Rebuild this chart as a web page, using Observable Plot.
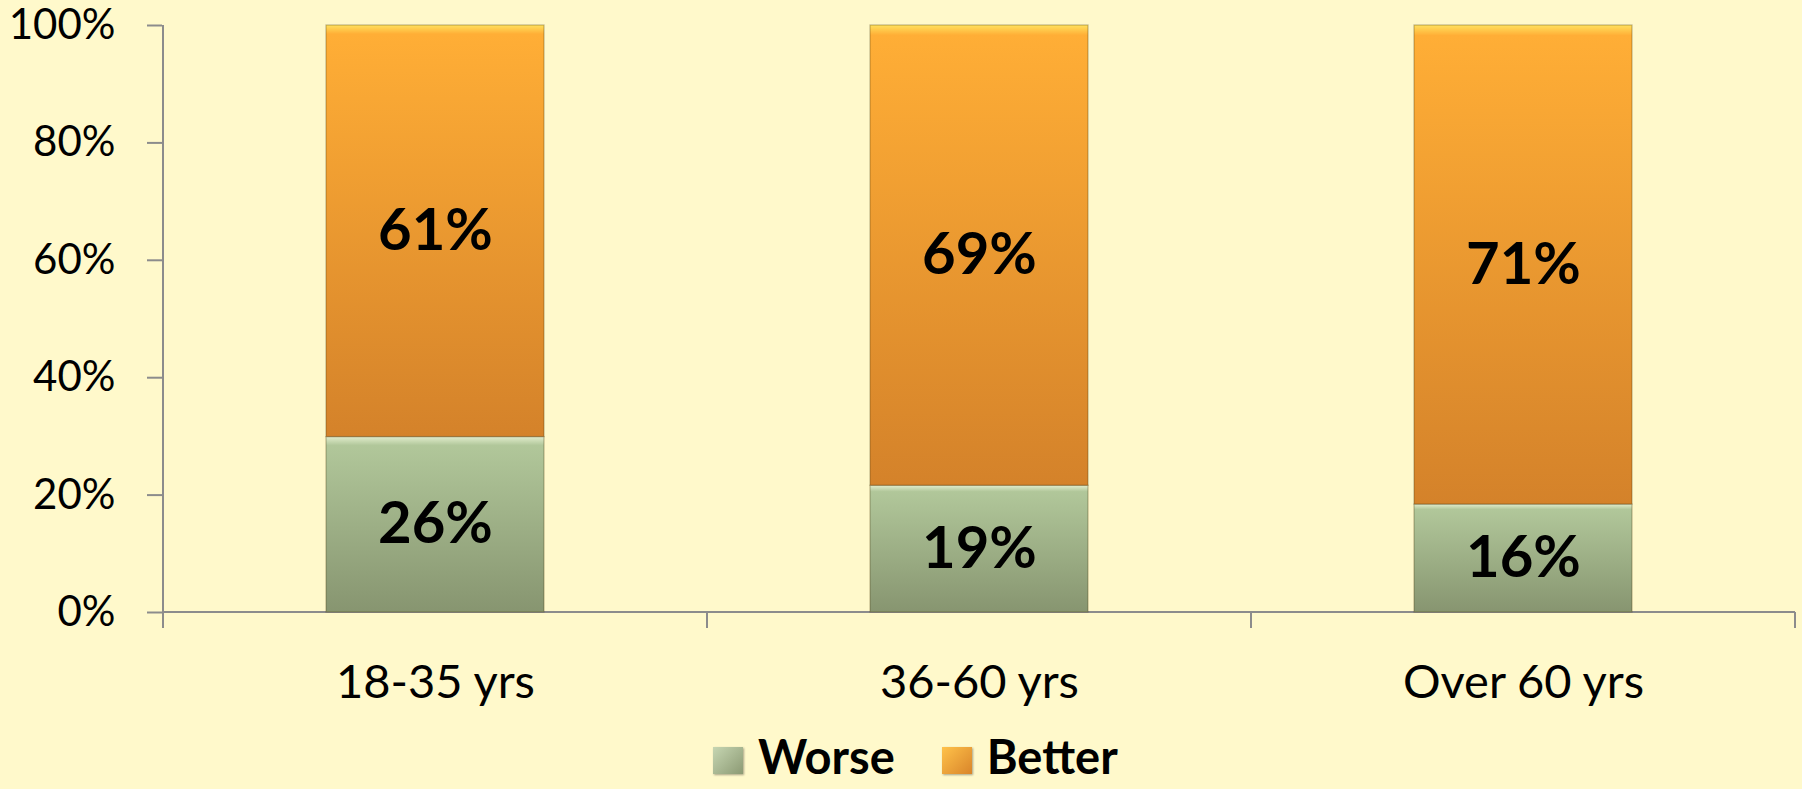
<!DOCTYPE html>
<html>
<head>
<meta charset="utf-8">
<script src="https://cdn.jsdelivr.net/npm/d3@7"></script>
<script src="https://cdn.jsdelivr.net/npm/@observablehq/plot@0.6"></script>
<style>
  html, body { margin: 0; padding: 0; background: #FFF9CB; width: 1802px; height: 789px; overflow: hidden; position: relative; }
  #chart svg { display: block; }
  #legend { position: absolute; left: 713px; top: 733px; white-space: nowrap; font-family: Lato, sans-serif; font-weight: bold; font-size: 47px; line-height: 47px; color: #000; }
  #legend .sw { display: inline-block; width: 30px; height: 27px; margin-right: 15px; box-shadow: 1px 1px 2px rgba(0,0,0,0.35); }
  #legend .item { margin-right: 47px; }
</style>
</head>
<body>
<div id="chart"></div>
<div id="legend"></div>
<script>
// ---- data ----
const categories = ["18-35 yrs", "36-60 yrs", "Over 60 yrs"];
const seriesNames = ["Worse", "Better"];
const worseValues = [26, 19, 16];
const betterValues = [61, 69, 71];
const yTicks = [0, 0.2, 0.4, 0.6, 0.8, 1];

const gradientStops = {
  Worse: [[0, "#E2EDCD"], [0.05, "#B1C79A"], [1, "#879570"]],
  Better: [[0, "#FFE15E"], [0.022, "#FFAE36"], [1, "#D4822A"]]
};
const legendSwatch = {
  Worse: "linear-gradient(135deg, #c6d6b2, #8c9a74)",
  Better: "linear-gradient(135deg, #ffc24a, #d9852a)"
};

const data = [
  ...categories.map((c, i) => ({age: c, series: "Worse", value: worseValues[i]})),
  ...categories.map((c, i) => ({age: c, series: "Better", value: betterValues[i]}))
];

const plot = Plot.plot({
  width: 1802,
  height: 730,
  marginLeft: 162,
  marginRight: 7,
  marginTop: 25,
  marginBottom: 118,
  style: {background: "transparent", fontFamily: "Lato, sans-serif", color: "#000", overflow: "visible"},
  x: {domain: categories, paddingInner: 0.6, paddingOuter: 0.3, label: null},
  y: {domain: [0, 1], label: null},
  color: {domain: seriesNames, range: seriesNames.map(s => `url(#grad${s})`)},
  marks: [
    Plot.axisY({ticks: yTicks, tickFormat: d3.format(".0%"), tickSize: 15, tickPadding: 32, fontSize: 42, stroke: "#8c8c8c", strokeWidth: 2, fill: "#000", label: null}),
    Plot.axisX({tickSize: 0, tickPadding: 52, fontSize: 47, fill: "#000", label: null}),
    Plot.barY(data, Plot.stackY({offset: "normalize"}, {
      x: "age", y: "value", fill: "series",
      stroke: "#4a3a10", strokeOpacity: 0.35, strokeWidth: 1.2
    })),
    Plot.text(data, Plot.stackY({offset: "normalize"}, {
      x: "age", y: "value", text: d => d.value + "%",
      fontSize: 58, fontWeight: "bold", fill: "#000"
    }))
  ]
});

// gradients
const svg = d3.select(plot);
const defs = svg.insert("defs", ":first-child");
for (const s of seriesNames) {
  const g = defs.append("linearGradient").attr("id", "grad" + s).attr("x1", 0).attr("y1", 0).attr("x2", 0).attr("y2", 1);
  for (const [o, c] of gradientStops[s]) g.append("stop").attr("offset", o).attr("stop-color", c);
}

// axis lines and category boundary ticks, from the plot's own scales
const xs = plot.scale("x"), ys = plot.scale("y");
const step = xs.apply(categories[1]) - xs.apply(categories[0]);
const bw = xs.bandwidth;
const edges = categories.map(c => xs.apply(c) + bw / 2 - step / 2);
edges.push(xs.apply(categories[categories.length - 1]) + bw / 2 + step / 2);
const y0 = ys.apply(0), y1 = ys.apply(1);
const lines = svg.append("g").attr("stroke", "#8c8c8c").attr("stroke-width", 2);
lines.append("line").attr("x1", edges[0]).attr("x2", edges[0]).attr("y1", y1).attr("y2", y0);
lines.append("line").attr("x1", edges[0]).attr("x2", edges[edges.length - 1]).attr("y1", y0).attr("y2", y0);
for (const e of edges) lines.append("line").attr("x1", e).attr("x2", e).attr("y1", y0).attr("y2", y0 + 16);
// bring bars and labels above the lines
svg.selectAll("g[aria-label='bar'], g[aria-label='text']").raise();

document.getElementById("chart").appendChild(plot);

// legend
const legend = d3.select("#legend");
for (const s of seriesNames) {
  const item = legend.append("span").attr("class", "item");
  item.append("span").attr("class", "sw").style("background", legendSwatch[s]);
  item.append("span").text(s);
}
</script>
</body>
</html>
